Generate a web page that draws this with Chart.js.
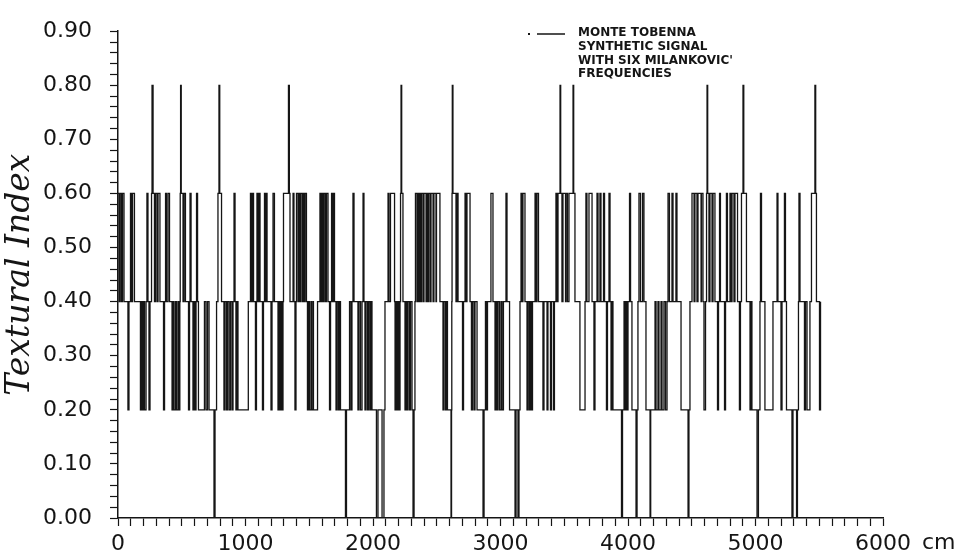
<!DOCTYPE html>
<html>
<head>
<meta charset="utf-8">
<script src="https://cdn.jsdelivr.net/npm/chart.js@4.4.1/dist/chart.umd.min.js"></script>
<style>
html, body { margin: 0; padding: 0; background: #fff; }
#wrap { width: 963px; height: 557px; }
</style>
</head>
<body>
<div id="wrap"><canvas id="chart" width="963" height="557"></canvas></div>
<script>
// depth (cm) where the synthetic signal switches, and the level it switches to
const depthCm = [
  0, 8, 16, 27, 35, 47, 78, 86, 98, 106, 114, 129, 176, 184, 192, 200, 208, 220, 227, 235,
  243, 251, 263, 267, 275, 286, 294, 306, 314, 329, 357, 365, 373, 380, 392, 404, 424, 431, 439, 451,
  459, 471, 475, 485, 488, 491, 496, 510, 518, 529, 553, 561, 565, 573, 588, 596, 604, 612, 616, 624,
  631, 678, 690, 702, 714, 753, 761, 773, 784, 792, 798, 812, 831, 839, 851, 859, 871, 882, 894, 902,
  910, 918, 925, 933, 941, 1022, 1039, 1047, 1055, 1063, 1078, 1086, 1090, 1098, 1106, 1114, 1133, 1141, 1149, 1157,
  1161, 1169, 1200, 1208, 1216, 1227, 1255, 1263, 1271, 1278, 1286, 1294, 1298, 1337, 1344, 1349, 1373, 1380, 1388, 1396,
  1400, 1412, 1420, 1427, 1435, 1447, 1451, 1459, 1467, 1478, 1486, 1494, 1502, 1514, 1518, 1529, 1533, 1565, 1584, 1592,
  1600, 1608, 1616, 1627, 1635, 1647, 1659, 1667, 1675, 1682, 1690, 1698, 1710, 1718, 1729, 1737, 1745, 1784, 1792, 1816,
  1827, 1835, 1843, 1851, 1882, 1890, 1902, 1914, 1922, 1929, 1937, 1945, 1957, 1965, 1976, 1984, 1992, 2027, 2039, 2071,
  2086, 2094, 2118, 2125, 2137, 2169, 2173, 2180, 2188, 2196, 2204, 2212, 2216, 2220, 2225, 2235, 2251, 2259, 2267, 2274,
  2286, 2294, 2306, 2314, 2322, 2329, 2333, 2345, 2353, 2361, 2369, 2376, 2384, 2396, 2400, 2416, 2423, 2431, 2439, 2451,
  2455, 2471, 2478, 2494, 2498, 2525, 2549, 2557, 2569, 2576, 2584, 2612, 2616, 2618, 2620, 2622, 2627, 2651, 2659, 2667,
  2702, 2710, 2722, 2729, 2737, 2761, 2772, 2780, 2792, 2800, 2816, 2863, 2871, 2882, 2890, 2898, 2925, 2941, 2957, 2965,
  2972, 2980, 2992, 3004, 3012, 3023, 3043, 3051, 3071, 3114, 3122, 3137, 3145, 3153, 3161, 3169, 3176, 3192, 3208, 3216,
  3227, 3235, 3243, 3251, 3271, 3278, 3286, 3298, 3333, 3341, 3365, 3372, 3392, 3400, 3416, 3423, 3435, 3443, 3451, 3467,
  3472, 3482, 3490, 3510, 3514, 3525, 3537, 3569, 3574, 3584, 3623, 3663, 3670, 3678, 3694, 3718, 3733, 3741, 3757, 3765,
  3780, 3788, 3808, 3816, 3831, 3839, 3851, 3859, 3867, 3875, 3882, 3949, 3957, 3969, 3976, 3984, 3992, 4000, 4012, 4020,
  4031, 4063, 4071, 4078, 4086, 4098, 4114, 4125, 4141, 4173, 4178, 4212, 4220, 4235, 4243, 4259, 4267, 4282, 4294, 4306,
  4314, 4325, 4345, 4353, 4376, 4384, 4416, 4471, 4478, 4486, 4502, 4518, 4525, 4541, 4549, 4573, 4576, 4588, 4596, 4608,
  4616, 4620, 4625, 4635, 4643, 4659, 4667, 4682, 4702, 4710, 4718, 4725, 4757, 4765, 4772, 4780, 4800, 4808, 4816, 4831,
  4839, 4859, 4874, 4882, 4890, 4902, 4908, 4929, 4957, 4965, 4972, 5012, 5023, 5035, 5039, 5047, 5074, 5137, 5169, 5176,
  5200, 5208, 5227, 5235, 5243, 5286, 5294, 5322, 5329, 5337, 5341, 5349, 5384, 5392, 5404, 5427, 5439, 5466, 5472, 5478,
  5502, 5510
];
const texturalIndex = [
  .6, .4, .6, .4, .6, .4, .2, .4, .6, .4, .6, .4, .2, .4, .2, .4, .2, .4, .6, .4,
  .2, .4, .6, .8, .6, .4, .6, .4, .6, .4, .2, .4, .6, .4, .6, .4, .2, .4, .2, .4,
  .2, .4, .2, .4, .6, .8, .6, .4, .6, .4, .2, .4, .6, .4, .2, .4, .2, .4, .6, .4,
  .2, .4, .2, .4, .2, 0, .2, .4, .6, .8, .6, .4, .2, .4, .2, .4, .2, .4, .2, .4,
  .6, .4, .2, .4, .2, .4, .6, .4, .6, .4, .2, .4, .6, .4, .6, .4, .2, .4, .6, .4,
  .6, .4, .2, .4, .6, .4, .2, .4, .2, .4, .2, .4, .6, .8, .6, .4, .6, .4, .2, .4,
  .6, .4, .6, .4, .6, .4, .6, .4, .6, .4, .2, .4, .2, .4, .2, .4, .2, .4, .6, .4,
  .6, .4, .6, .4, .6, .4, .2, .4, .6, .4, .6, .4, .2, .4, .2, .4, .2, 0, .2, .4,
  .2, .4, .6, .4, .2, .4, .2, .4, .6, .4, .2, .4, .2, .4, .2, .4, .2, 0, .2, 0,
  .2, .4, .6, .4, .6, .4, .2, .4, .2, .4, .2, .4, .6, .8, .6, .4, .2, .4, .2, .4,
  .2, .4, .2, 0, .2, .4, .6, .4, .6, .4, .6, .4, .6, .4, .6, .4, .6, .4, .6, .4,
  .6, .4, .6, .4, .6, .4, .2, .4, .2, .4, .2, 0, .2, .4, .6, .8, .6, .4, .6, .4,
  .2, .4, .6, .4, .6, .4, .2, .4, .2, .4, .2, 0, .2, .4, .2, .4, .6, .4, .2, .4,
  .2, .4, .2, .4, .2, .4, .6, .4, .2, 0, .2, 0, .2, .4, .6, .4, .6, .4, .2, .4,
  .2, .4, .2, .4, .6, .4, .6, .4, .2, .4, .2, .4, .2, .4, .2, .4, .6, .4, .6, .8,
  .6, .4, .6, .4, .6, .4, .6, .8, .6, .4, .2, .4, .6, .4, .6, .4, .2, .4, .6, .4,
  .6, .4, .6, .4, .2, .4, .6, .4, .2, .4, .2, 0, .2, .4, .2, .4, .2, .4, .6, .4,
  .2, 0, .2, .4, .6, .4, .6, .4, .2, 0, .2, .4, .2, .4, .2, .4, .2, .4, .2, .4,
  .6, .4, .6, .4, .6, .4, .2, 0, .2, .4, .6, .4, .6, .4, .6, .4, .6, .4, .2, .4,
  .6, .8, .6, .4, .6, .4, .6, .4, .2, .4, .6, .4, .2, .4, .6, .4, .6, .4, .6, .4,
  .6, .4, .2, .4, .6, .8, .6, .4, .2, .4, .2, 0, .2, .4, .6, .4, .2, .4, .6, .4,
  .2, .4, .6, .4, .2, 0, .2, 0, .2, .4, .6, .4, .2, .4, .2, .4, .6, .8, .6, .4,
  .2, .4
];

const legendText = ['MONTE TOBENNA', 'SYNTHETIC SIGNAL', "WITH SIX MILANKOVIC'", 'FREQUENCIES'];
const xMin = 0, xMax = 6000, xMajor = 1000, xMinor = 100;
const yMin = 0, yMax = 0.9, yMinor = 0.02;

const ink = '#151515';
const points = depthCm.map((d, i) => ({ x: d, y: texturalIndex[i] }));

// legend block and the "cm" unit after the last x tick
const extras = {
  id: 'extras',
  afterDraw(chart) {
    const ctx = chart.ctx;
    const xs = chart.scales.x;
    ctx.save();
    ctx.fillStyle = ink;
    ctx.strokeStyle = ink;
    ctx.font = '22px "DejaVu Sans"';
    ctx.textBaseline = 'middle';
    ctx.fillText('cm', xs.getPixelForValue(xMax) + 39, xs.top + 25);

    ctx.lineWidth = 1.5;
    ctx.beginPath();
    ctx.moveTo(537, 34);
    ctx.lineTo(565, 34);
    ctx.stroke();
    ctx.fillRect(528, 33, 2, 2);
    ctx.font = 'bold 12px "DejaVu Sans"';
    legendText.forEach((t, i) => ctx.fillText(t, 578, 33 + i * 13.7));
    ctx.restore();
  }
};

new Chart(document.getElementById('chart'), {
  type: 'line',
  data: {
    datasets: [{
      label: 'Monte Tobenna synthetic signal',
      data: points,
      stepped: true,
      borderColor: ink,
      borderWidth: 1.3,
      pointRadius: 0,
      fill: false
    }]
  },
  options: {
    responsive: false,
    animation: false,
    events: [],
    layout: { padding: { top: 18, right: 80, left: 0, bottom: 0 } },
    plugins: { legend: { display: false }, tooltip: { enabled: false } },
    scales: {
      x: {
        type: 'linear',
        min: xMin,
        max: xMax,
        border: { color: ink, width: 1.5 },
        grid: { drawOnChartArea: false, tickLength: 8, tickColor: ink, tickWidth: 1.2 },
        ticks: {
          stepSize: xMinor,
          autoSkip: false,
          minRotation: 0,
          maxRotation: 0,
          padding: 5,
          color: ink,
          font: { family: 'DejaVu Sans', size: 22 },
          callback: v => (v % xMajor === 0 ? String(v) : '')
        },
        afterFit: s => { s.height = 39; }
      },
      y: {
        min: yMin,
        max: yMax,
        border: { color: ink, width: 1.5 },
        grid: { drawOnChartArea: false, tickLength: 8, tickColor: ink, tickWidth: 1.2 },
        ticks: {
          stepSize: yMinor,
          autoSkip: false,
          padding: 18,
          color: ink,
          font: { family: 'DejaVu Sans', size: 22 },
          callback: v => (Math.abs(v * 10 - Math.round(v * 10)) < 1e-6 ? v.toFixed(2) : '')
        },
        title: {
          display: true,
          text: 'Textural Index',
          color: ink,
          font: { family: 'DejaVu Serif', style: 'italic', size: 33 },
          padding: { top: 1, bottom: 0 }
        },
        afterFit: s => { s.width = 118; }
      }
    }
  },
  plugins: [extras]
});
</script>
</body>
</html>
